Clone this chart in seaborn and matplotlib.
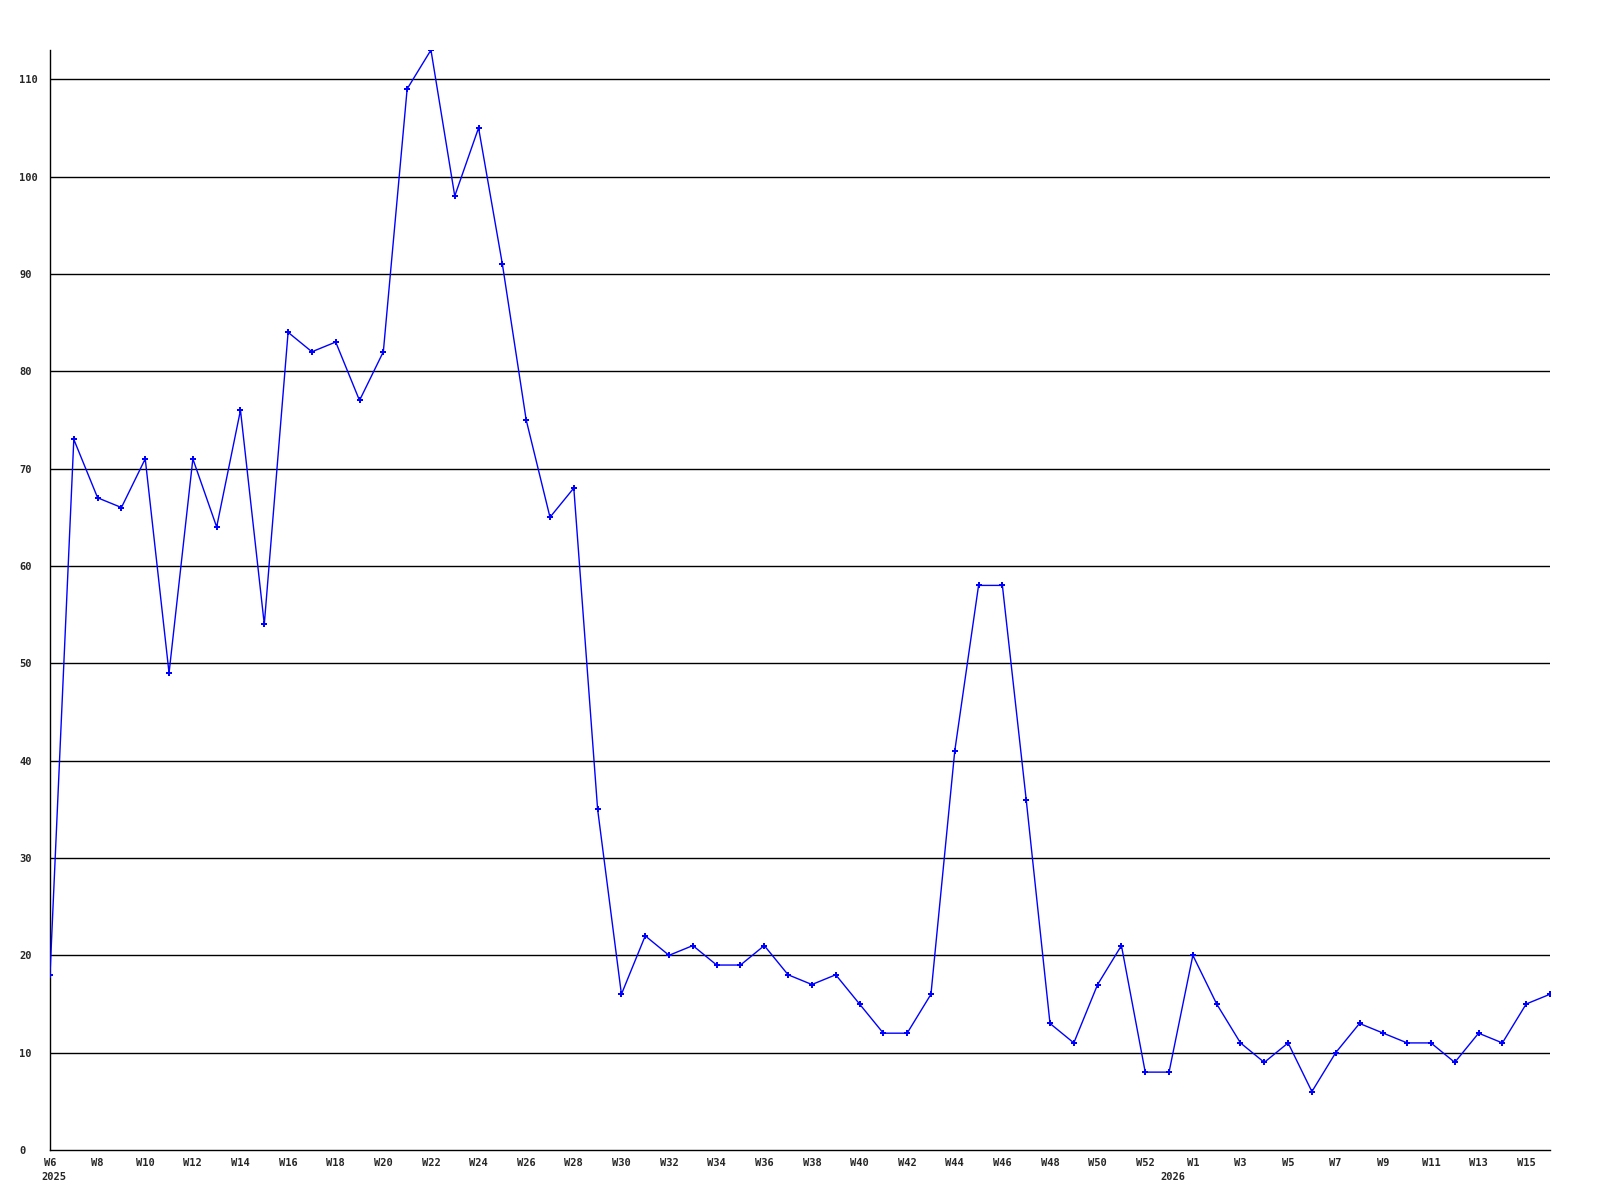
import matplotlib
matplotlib.use("Agg")
import matplotlib.pyplot as plt
import seaborn as sns
import pandas as pd
import numpy as np

# Weekly values, W6 2025 .. W16 2026 (one extra week between W52 and W1)
weeks_2025 = [f"W{w}" for w in range(6, 53)] + ["W53"]
values_2025 = [18, 73, 67, 66, 71, 49, 71, 64, 76, 54,
               84, 82, 83, 77, 82, 109, 113, 98, 105, 91,
               75, 65, 68, 35, 16, 22, 20, 21, 19, 19,
               21, 18, 17, 18, 15, 12, 12, 16, 41, 58,
               58, 36, 13, 11, 17, 21, 8, 8]
weeks_2026 = [f"W{w}" for w in range(1, 17)]
values_2026 = [20, 15, 11, 9, 11, 6, 10, 13, 12, 11, 11, 9, 12, 11, 15, 16]

week_labels = weeks_2025 + weeks_2026
values = values_2025 + values_2026
year_labels = ["2025", "2026"]
y_ticks = [0, 10, 20, 30, 40, 50, 60, 70, 80, 90, 100, 110]

df = pd.DataFrame({"idx": np.arange(len(values)), "value": values, "week": week_labels})

sns.set_style("white")
plt.rcParams["font.family"] = ["DejaVu Sans Mono"]

fig = plt.figure(figsize=(16, 12), dpi=100)
ax = fig.add_axes([50 / 1600, 1 - 1150 / 1200, 1500 / 1600, 1100 / 1200])

for yv in y_ticks[1:]:
    ax.axhline(yv, color="black", lw=1.0, zorder=1)

sns.lineplot(data=df, x="idx", y="value", ax=ax, color="#0000ff", lw=1.0,
             marker="P", markersize=4.5, markeredgewidth=0, zorder=3, clip_on=True)

ax.set_xlim(0, len(values) - 1)
ax.set_ylim(0, max(values))

# x ticks every two weeks, skipping the extra week
tick_pos = [i for i in range(0, len(weeks_2025) - 1, 2)] + \
           [len(weeks_2025) + i for i in range(0, len(weeks_2026) - 1, 2)]
ax.set_xticks(tick_pos)
ax.set_xticklabels([week_labels[i] for i in tick_pos], fontsize=7.5, fontweight="bold")
ax.tick_params(axis="x", length=0, pad=6)

ax.set_yticks(y_ticks)
ax.set_yticklabels([str(v) for v in y_ticks], fontsize=7.5, fontweight="bold", ha="left")
ax.tick_params(axis="y", length=0, pad=22)

# year labels
for pos, yr in zip([0, len(weeks_2025) - 1], year_labels):
    ax.annotate(yr, xy=(pos, 0), xycoords=("data", "axes fraction"),
                xytext=(2.5, -15.5), textcoords="offset points",
                ha="center", va="top", fontsize=7.5, fontweight="bold")

ax.set_xlabel("")
ax.set_ylabel("")
for s in ["top", "right"]:
    ax.spines[s].set_visible(False)
for s in ["left", "bottom"]:
    ax.spines[s].set_color("black")
    ax.spines[s].set_linewidth(1.0)
ax.grid(False)

fig.savefig("out.png", dpi=100, facecolor="white")
